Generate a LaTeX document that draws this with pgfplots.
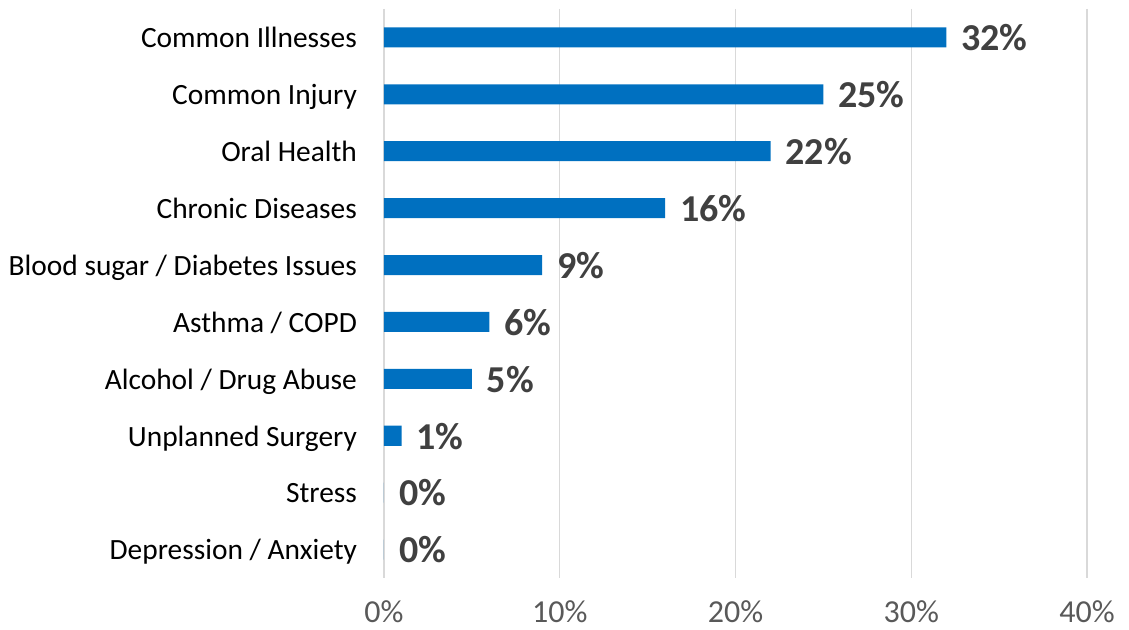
\documentclass[border=0pt]{standalone}
\usepackage{pgfplots}
\pgfplotsset{compat=1.18}
\usepackage{fontspec}
\setmainfont{Carlito}
\definecolor{barblue}{HTML}{0070C0}
\definecolor{lblgray}{HTML}{404040}
\definecolor{tickgray}{HTML}{595959}
\definecolor{gridgray}{HTML}{D9D9D9}
\begin{document}
\begin{tikzpicture}
\path[use as bounding box] (-192pt,-26pt) rectangle (372.5pt,289pt);
\begin{axis}[
  scale only axis,
  width=351.5pt, height=284.5pt,
  xbar, bar width=10pt,
  xmin=0, xmax=40,
  ymin=-0.5, ymax=9.5,
  y dir=reverse,
  axis line style={draw=none},
  major tick length=0pt,
  xtick={0,10,20,30,40},
  xticklabel={\pgfmathprintnumber{\tick}\%},
  xticklabel style={font=\fontsize{16pt}{18pt}\selectfont, text=tickgray,
    inner sep=0pt, anchor=north, yshift=-11pt},
  /pgf/number format/assume math mode=true,
  ytick={0,...,9},
  yticklabels={Common Illnesses, Common Injury, Oral Health, Chronic Diseases,
    Blood sugar / Diabetes Issues, Asthma / COPD, Alcohol / Drug Abuse,
    Unplanned Surgery, Stress, Depression / Anxiety},
  yticklabel style={font=\fontsize{14.7pt}{16pt}\selectfont, text=black,
    text height=12.5pt, text depth=2.2pt, xshift=-10pt},
  xmajorgrids,
  grid style={gridgray, line width=0.6pt},
  point meta=x,
  nodes near coords={\pgfmathprintnumber{\pgfplotspointmeta}\%},
  nodes near coords style={font=\fontsize{19pt}{21pt}\selectfont\bfseries, text=lblgray,
    text height=15.5pt, text depth=2.2pt, anchor=west, xshift=4pt},
]
\addplot[fill=barblue, draw=none] coordinates {
  (32,0) (25,1) (22,2) (16,3) (9,4) (6,5) (5,6) (1,7) (0,8) (0,9)
};
\end{axis}
\end{tikzpicture}
\end{document}
